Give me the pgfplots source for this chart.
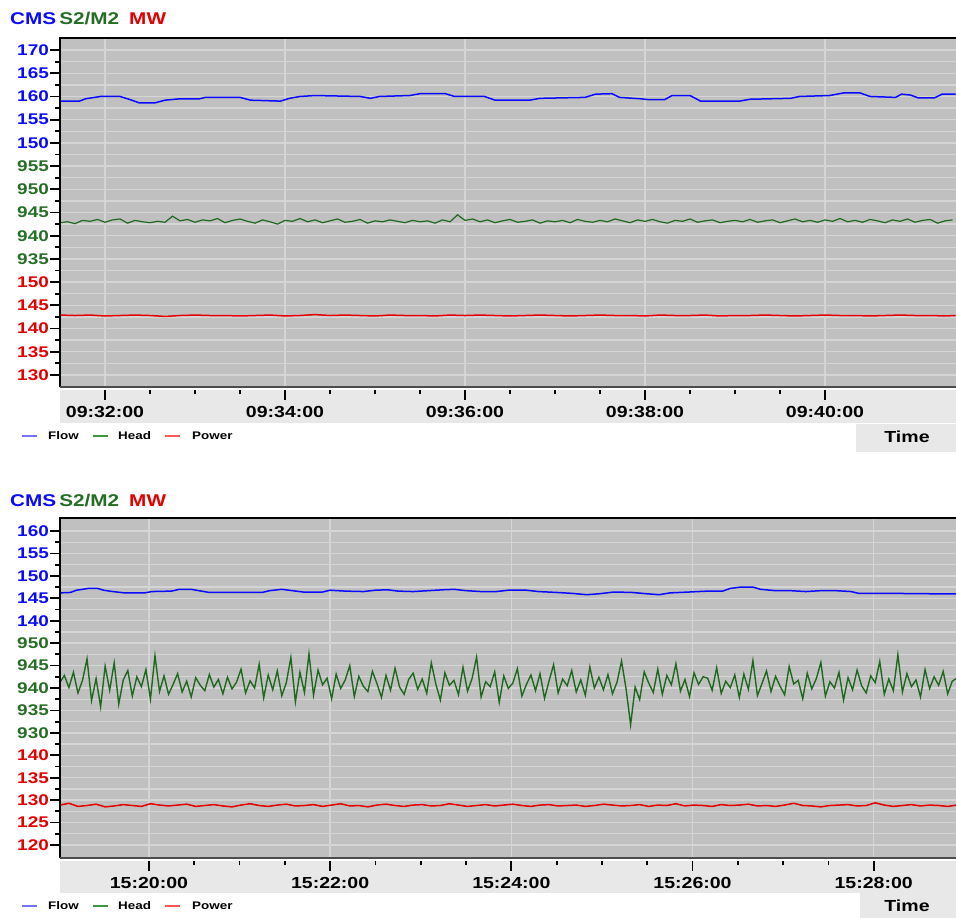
\documentclass[border=0pt]{standalone}
\usepackage{fontspec}
\setmainfont{Liberation Sans}[FakeStretch=1.22]
\usepackage{pgfplots}
\pgfplotsset{compat=1.18}
\definecolor{cblue}{RGB}{10,10,255}
\definecolor{cgreen}{RGB}{38,110,38}
\definecolor{lgreen}{RGB}{30,105,30}
\definecolor{cred}{RGB}{228,0,0}
\definecolor{plotbg}{RGB}{192,192,192}
\definecolor{gridc}{RGB}{213,213,213}
\definecolor{bandc}{RGB}{232,232,232}
\newcommand{\R}[1]{\textcolor{cred}{#1}}
\newcommand{\G}[1]{\textcolor{cgreen}{#1}}
\newcommand{\Bl}[1]{\textcolor{cblue}{#1}}
\pgfplotsset{panel/.style={
  scale only axis, width=896pt,
  axis background/.style={fill=plotbg},
  axis line style={draw=none},
  ytick={0,...,14}, minor y tick num=1,
  ymajorgrids, yminorgrids, xmajorgrids,
  major grid style={gridc, line width=1.4pt},
  minor grid style={gridc, line width=1.4pt},
  tick align=outside, ytick pos=left, xtick pos=bottom,
  major tick length=10pt, minor tick length=4.5pt,
  every tick/.style={black, line width=1.8pt},
  major x tick style={yshift=-3pt},
  minor x tick style={yshift=-3pt},
  yticklabel style={font=\fontsize{15.5}{15.5}\selectfont\bfseries, inner sep=1pt},
  xticklabel style={font=\fontsize{16}{16}\selectfont\bfseries, yshift=-6pt},
  xtick={120,240,360,480,600}, minor x tick num=3,
  no markers,
}}
\begin{document}
\begin{tikzpicture}
\begin{scope}[x=1pt,y=1pt]
\fill[bandc] (60,528) rectangle (956,495);
\fill[bandc] (60,57) rectangle (956,25);
\fill[bandc] (856,494) rectangle (956,466);
\fill[bandc] (860,25) rectangle (956,0);
\end{scope}
% ---------------- top panel ----------------
\begin{axis}[panel, at={(60pt,531pt)}, anchor=south west, height=349pt,
  xmin=90, xmax=687.3, ymin=-0.52, ymax=14.52,
  yticklabels={{\R{130}},{\R{135}},{\R{140}},{\R{145}},{\R{150}},{\G{935}},{\G{940}},{\G{945}},{\G{950}},{\G{955}},{\Bl{150}},{\Bl{155}},{\Bl{160}},{\Bl{165}},{\Bl{170}}},
  xticklabels={09:32:00,09:34:00,09:36:00,09:38:00,09:40:00}]
\addplot[cblue, line width=1.5pt, y filter/.expression={10+(y-150)/5}] coordinates {
(90,159.0)(103,159.0)(107,159.5)(113,159.8)(117,160.0)(130,160.0)(137,159.3)(143,158.6)(153,158.6)(160,159.2)(170,159.5)(183,159.5)(187,159.8)(210,159.8)(217,159.2)(237,159.0)(243,159.6)(250,160.0)(260,160.2)(290,160.0)(297,159.6)(303,160.0)(323,160.2)(330,160.6)(347,160.6)(353,160.0)(373,160.0)(380,159.2)(403,159.2)(410,159.6)(440,159.8)(447,160.5)(458,160.6)(463,159.8)(477,159.5)(483,159.3)(493,159.3)(498,160.2)(510,160.2)(517,159.0)(543,159.0)(550,159.4)(577,159.6)(583,160.0)(603,160.2)(613,160.8)(623,160.8)(630,160.0)(647,159.8)(651,160.5)(657,160.3)(662,159.7)(673,159.7)(678,160.5)(687,160.5)};
\addplot[lgreen, line width=1.2pt, y filter/.expression={5+(y-935)/5}] coordinates {
(90,942.8)(95,943.0)(100,942.6)(105,943.3)(110,943.1)(115,943.5)(120,942.9)(125,943.4)(130,943.6)(135,942.7)(140,943.3)(145,943.0)(150,942.8)(155,943.1)(160,942.9)(165,944.2)(170,943.2)(175,943.5)(180,942.9)(185,943.4)(190,943.2)(195,943.7)(200,942.8)(205,943.3)(210,943.6)(215,943.1)(220,942.7)(225,943.4)(230,943.0)(235,942.5)(240,943.3)(245,943.1)(250,943.7)(255,943.0)(260,943.4)(265,942.8)(270,943.2)(275,943.6)(280,942.9)(285,943.1)(290,943.5)(295,942.7)(300,943.2)(305,943.0)(310,943.4)(315,943.1)(320,942.8)(325,943.3)(330,943.0)(335,943.2)(340,942.7)(345,943.4)(350,943.0)(355,944.5)(360,943.3)(365,943.6)(370,943.0)(375,943.4)(380,942.8)(385,943.2)(390,943.5)(395,942.9)(400,943.1)(405,943.4)(410,942.7)(415,943.2)(420,943.0)(425,943.3)(430,942.8)(435,943.5)(440,943.1)(445,942.9)(450,943.3)(455,943.0)(460,943.6)(465,943.2)(470,942.8)(475,943.4)(480,943.1)(485,943.5)(490,943.0)(495,942.7)(500,943.3)(505,943.1)(510,943.6)(515,942.9)(520,943.2)(525,943.4)(530,942.8)(535,943.1)(540,943.3)(545,943.0)(550,943.5)(555,942.9)(560,943.2)(565,943.4)(570,942.8)(575,943.2)(580,943.6)(585,943.0)(590,943.3)(595,942.9)(600,943.4)(605,943.1)(610,943.7)(615,943.0)(620,943.3)(625,942.9)(630,943.5)(635,943.2)(640,942.8)(645,943.4)(650,943.1)(655,943.6)(660,942.9)(665,943.3)(670,943.5)(675,942.7)(680,943.2)(685,943.4)};
\addplot[cred, line width=1.5pt, y filter/.expression={(y-130)/5}] coordinates {
(90,142.9)(100,142.8)(110,142.9)(120,142.7)(130,142.8)(140,142.9)(150,142.8)(160,142.6)(170,142.8)(180,142.9)(190,142.8)(200,142.8)(210,142.7)(220,142.8)(230,142.9)(240,142.7)(250,142.8)(260,143.0)(270,142.8)(280,142.9)(290,142.8)(300,142.7)(310,142.9)(320,142.8)(330,142.8)(340,142.7)(350,142.9)(360,142.8)(370,142.9)(380,142.8)(390,142.7)(400,142.8)(410,142.9)(420,142.8)(430,142.7)(440,142.8)(450,142.9)(460,142.8)(470,142.8)(480,142.7)(490,142.9)(500,142.8)(510,142.8)(520,142.9)(530,142.7)(540,142.8)(550,142.8)(560,142.9)(570,142.8)(580,142.7)(590,142.8)(600,142.9)(610,142.8)(620,142.8)(630,142.7)(640,142.8)(650,142.9)(660,142.8)(670,142.8)(680,142.7)(687,142.8)};
\end{axis}
% ---------------- bottom panel ----------------
\begin{axis}[panel, at={(60pt,60pt)}, anchor=south west, height=340pt,
  xmin=61.1, xmax=654.5, ymin=-0.58, ymax=14.58,
  yticklabels={{\R{120}},{\R{125}},{\R{130}},{\R{135}},{\R{140}},{\G{930}},{\G{935}},{\G{940}},{\G{945}},{\G{950}},{\Bl{140}},{\Bl{145}},{\Bl{150}},{\Bl{155}},{\Bl{160}}},
  xticklabels={15:20:00,15:22:00,15:24:00,15:26:00,15:28:00}]
\addplot[cblue, line width=1.5pt, y filter/.expression={10+(y-140)/5}] coordinates {
(61,146.2)(68,146.3)(72,146.8)(80,147.2)(86,147.2)(90,146.8)(96,146.5)(104,146.2)(117,146.2)(122,146.5)(135,146.6)(140,147.0)(148,147.0)(153,146.7)(160,146.3)(175,146.3)(195,146.3)(200,146.7)(208,147.0)(215,146.7)(222,146.4)(235,146.4)(240,146.8)(250,146.6)(262,146.5)(270,146.8)(278,146.9)(285,146.6)(295,146.5)(305,146.7)(315,146.9)(322,147.0)(330,146.7)(340,146.5)(350,146.5)(358,146.8)(370,146.8)(378,146.5)(390,146.3)(400,146.1)(410,145.8)(418,146.0)(428,146.4)(440,146.3)(450,146.0)(458,145.8)(465,146.2)(478,146.4)(490,146.6)(500,146.6)(505,147.2)(512,147.5)(520,147.5)(525,147.0)(535,146.7)(545,146.7)(555,146.5)(565,146.7)(575,146.7)(585,146.5)(590,146.1)(610,146.1)(640,146.0)(655,146.0)};
\addplot[lgreen, line width=1.4pt, y filter/.expression={5+(y-930)/5}] coordinates {
(61,941.2)(64,942.8)(67,940.1)(70,943.5)(73,938.9)(76,941.7)(79,946.5)(82,937.2)(85,942.1)(88,935.8)(91,944.9)(94,939.5)(97,945.6)(100,936.4)(103,941.8)(106,943.9)(109,938.2)(112,942.5)(115,940.3)(118,944.1)
(121,937.5)(124,947.2)(127,939.2)(130,942.7)(133,938.6)(136,940.8)(139,943.2)(142,939.1)(145,941.5)(148,938.0)(151,942.3)(154,940.6)(157,939.4)(160,943.0)(163,940.2)(166,941.9)(169,938.7)(172,942.4)(175,939.8)(178,941.3)
(181,944.2)(184,938.9)(187,941.6)(190,940.0)(193,945.3)(196,937.8)(199,942.9)(202,939.6)(205,943.8)(208,938.3)(211,941.2)(214,946.8)(217,936.9)(220,943.5)(223,939.0)(226,947.6)(229,938.4)(232,944.0)(235,940.7)(238,942.2)
(241,937.6)(244,943.1)(247,939.9)(250,941.8)(253,945.0)(256,938.1)(259,942.6)(262,940.4)(265,939.2)(268,943.7)(271,941.0)(274,937.9)(277,942.8)(280,939.5)(283,944.4)(286,940.2)(289,938.6)(292,941.9)(295,943.3)(298,939.7)
(301,942.0)(304,938.8)(307,945.6)(310,940.9)(313,937.3)(316,943.4)(319,940.6)(322,941.7)(325,938.5)(328,944.6)(331,939.3)(334,942.1)(337,946.9)(340,938.0)(343,941.4)(346,940.3)(349,943.6)(352,936.8)(355,942.7)(358,939.9)
(361,941.1)(364,944.3)(367,938.2)(370,940.8)(373,942.9)(376,939.4)(379,943.2)(382,937.7)(385,941.6)(388,945.2)(391,938.9)(394,942.0)(397,940.5)(400,943.9)(403,939.1)(406,941.8)(409,938.4)(412,944.7)(415,940.0)(418,942.4)
(421,939.6)(424,943.0)(427,938.7)(430,941.3)(433,946.0)(436,939.8)(439,931.8)(442,940.2)(445,937.4)(448,943.6)(451,941.1)(454,939.0)(457,944.2)(460,938.6)(463,942.8)(466,940.7)(469,945.4)(472,939.3)(475,941.9)(478,938.1)
(481,943.4)(484,940.8)(487,942.5)(490,942.2)(493,939.5)(496,944.5)(499,938.8)(502,941.5)(505,940.1)(508,942.9)(511,937.9)(514,943.1)(517,939.7)(520,946.1)(523,938.3)(526,941.0)(529,943.8)(532,939.2)(535,942.6)(538,940.4)
(541,938.5)(544,944.8)(547,940.9)(550,941.7)(553,937.6)(556,943.3)(559,939.8)(562,942.1)(565,945.7)(568,938.2)(571,941.4)(574,940.0)(577,943.5)(580,937.3)(583,942.3)(586,939.6)(589,944.0)(592,940.5)(595,938.9)(598,942.7)
(601,941.2)(604,945.9)(607,938.6)(610,942.0)(613,939.4)(616,947.4)(619,939.1)(622,943.2)(625,940.3)(628,941.8)(631,938.0)(634,944.1)(637,939.9)(640,942.5)(643,940.6)(646,943.7)(649,938.7)(652,941.5)(655,942.2)};
\addplot[cred, line width=1.5pt, y filter/.expression={(y-120)/5}] coordinates {
(61,128.9)(67,129.3)(73,128.6)(79,128.8)(85,129.1)(91,128.5)(97,128.7)(103,129.0)(109,128.8)(115,128.6)(121,129.2)(127,128.9)(133,128.7)(139,128.9)(145,129.1)(151,128.6)(157,128.8)(163,129.0)(169,128.7)(175,128.5)
(181,128.9)(187,129.2)(193,128.8)(199,128.6)(205,128.9)(211,129.1)(217,128.7)(223,128.8)(229,129.0)(235,128.6)(241,128.9)(247,129.2)(253,128.7)(259,128.8)(265,128.5)(271,128.9)(277,129.1)(283,128.8)(289,128.6)(295,128.9)
(301,129.0)(307,128.7)(313,128.8)(319,129.2)(325,128.9)(331,128.6)(337,128.8)(343,129.0)(349,128.7)(355,128.9)(361,129.1)(367,128.8)(373,128.6)(379,128.9)(385,129.0)(391,128.7)(397,128.8)(403,128.9)(409,128.6)(415,128.8)
(421,129.1)(427,128.9)(433,128.7)(439,128.8)(445,129.0)(451,128.6)(457,128.9)(463,128.8)(469,129.2)(475,128.7)(481,128.9)(487,128.8)(493,128.6)(499,129.0)(505,128.8)(511,128.9)(517,129.1)(523,128.7)(529,128.8)(535,128.6)
(541,128.9)(547,129.3)(553,128.8)(559,128.7)(565,128.5)(571,128.8)(577,128.9)(583,129.0)(589,128.7)(595,128.8)(601,129.4)(607,128.9)(613,128.6)(619,128.8)(625,129.0)(631,128.7)(637,128.9)(643,128.8)(649,128.6)(655,128.9)};
\end{axis}
\begin{scope}[x=1pt,y=1pt]
\draw[black, line width=2.7pt] (60,531) -- (60,880) -- (960,880);
\draw[black!70, line width=2pt] (60,531) -- (960,531);
\draw[black, line width=2.7pt] (60,60) -- (60,400) -- (960,400);
\draw[black!70, line width=2pt] (60,60) -- (960,60);
\node[anchor=base west, inner sep=0, font=\fontsize{17}{17}\selectfont\bfseries] at (10,893) {\Bl{CMS}\hspace{3pt}\G{S2/M2}\hspace{10pt}\R{MW}};
\node[anchor=base west, inner sep=0, font=\fontsize{17}{17}\selectfont\bfseries] at (10,411) {\Bl{CMS}\hspace{3pt}\G{S2/M2}\hspace{10pt}\R{MW}};
\foreach \yy in {482,12}{
  \draw[blue!55, line width=1.5pt] (22,\yy) -- (37,\yy);
  \draw[green!45!black!75, line width=1.5pt] (93,\yy) -- (108,\yy);
  \draw[red!65, line width=1.5pt] (165,\yy) -- (180,\yy);
  \node[anchor=west, inner sep=0, font=\fontsize{11}{11}\selectfont\bfseries] at (48,\yy) {Flow};
  \node[anchor=west, inner sep=0, font=\fontsize{11}{11}\selectfont\bfseries] at (118,\yy) {Head};
  \node[anchor=west, inner sep=0, font=\fontsize{11}{11}\selectfont\bfseries] at (192,\yy) {Power};
}
\node[font=\fontsize{16}{16}\selectfont\bfseries] at (907,481) {Time};
\node[font=\fontsize{16}{16}\selectfont\bfseries] at (907,12) {Time};
\end{scope}
\pgfresetboundingbox
\path[use as bounding box] (0pt,0pt) rectangle (956pt,918pt);
\end{tikzpicture}
\end{document}
